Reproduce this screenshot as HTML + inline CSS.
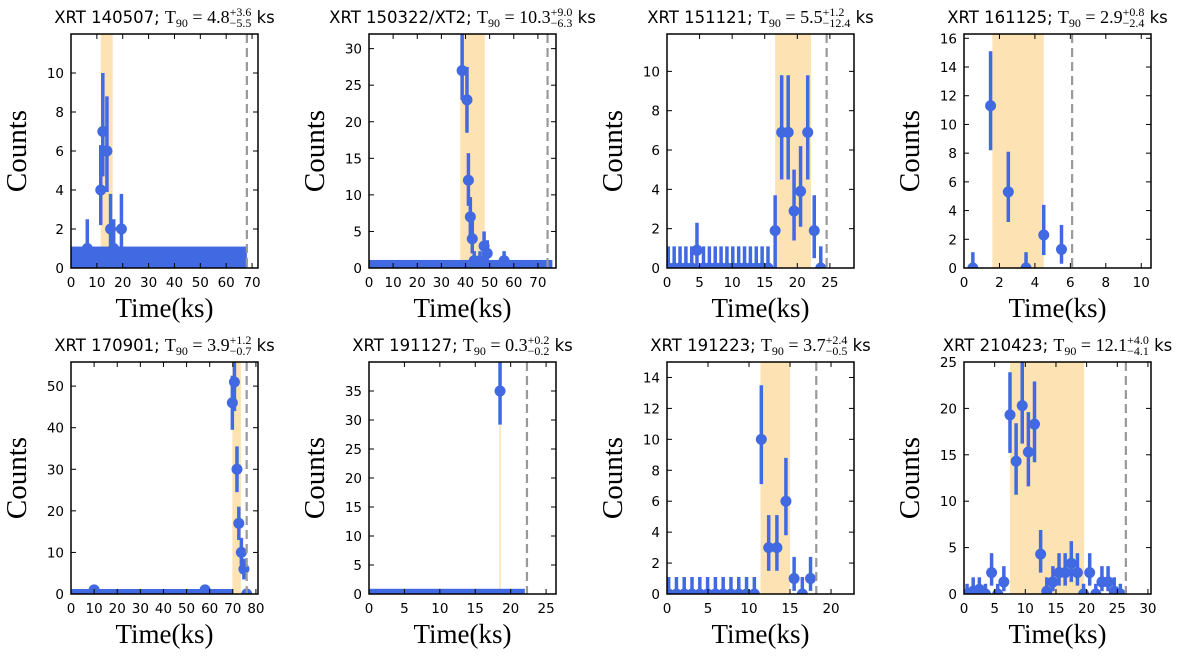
<!DOCTYPE html>
<html><head><meta charset="utf-8">
<style>
html,body{margin:0;padding:0;background:#fff;}
#wrap{position:relative;width:1200px;height:662px;overflow:hidden;}
svg{position:absolute;left:0;top:0;}
.title{position:absolute;width:400px;text-align:center;white-space:nowrap;font-family:"DejaVu Sans","Liberation Sans",sans-serif;font-size:16.5px;color:#000;line-height:20px;}
.m{font-family:"Liberation Serif",serif;font-size:18px;}
.sub{font-family:"Liberation Serif",serif;font-size:12px;position:relative;top:4px;}
.stk{display:inline-block;vertical-align:middle;font-family:"Liberation Serif",serif;font-size:12px;line-height:11px;text-align:left;position:relative;top:-1px;}
</style></head>
<body>
<div id="wrap">
<svg id="svg" width="1200" height="662"></svg>
</div>
<script>
// ---- Panel 1: XRT 140507 ----
const p1_x  = [6.3, 11.5, 12.3, 13.9, 15.3, 16.5, 19.5];
const p1_y  = [1, 4, 7, 6, 2, 1, 2];
const p1_lo = [0, 2.2, 4.7, 3.9, 0.6, 0, 0.6];
const p1_hi = [2.5, 6.3, 10, 8.8, 3.8, 2.5, 3.8];
const p1_bg = [0, 68, 1.1];
const p1_t90 = [11.5, 16.1];
const p1_dash = 68;

// ---- Panel 2: XRT 150322/XT2 ----
const p2_x  = [38.6, 40.6, 41.2, 42.0, 42.8, 43.6, 46.0, 47.7, 49.0, 56.0];
const p2_y  = [27, 23, 12, 7, 4, 1, 1, 3, 2, 1];
const p2_lo = [23, 18.5, 8.5, 4.5, 2, 0, 0, 1.2, 0.6, 0];
const p2_hi = [33, 27.5, 15.7, 9.7, 6.8, 2.3, 2.3, 5, 3.8, 2.3];
const p2_bg = [0, 76, 1.1];
const p2_t90 = [37.8, 48];
const p2_dash = 74;

// ---- Panel 3: XRT 151121 ----
const p3_x  = [0.2,1.1,2.0,2.9,3.8,5.6,6.5,7.4,8.3,9.2,10.1,11.0,11.9,12.8,13.7,14.6,15.5, 4.6, 16.6, 17.6, 18.6, 19.5, 20.5, 21.6, 22.6, 23.6];
const p3_y  = [0,0,0,0,0,0,0,0,0,0,0,0,0,0,0,0,0, 0.9, 1.9, 6.9, 6.9, 2.9, 3.9, 6.9, 1.9, 0];
const p3_lo = [0,0,0,0,0,0,0,0,0,0,0,0,0,0,0,0,0, 0, 0, 4.5, 4.5, 1.4, 2.1, 4.5, 0.5, 0];
const p3_hi = [1.1,1.1,1.1,1.1,1.1,1.1,1.1,1.1,1.1,1.1,1.1,1.1,1.1,1.1,1.1,1.1,1.1, 2.3, 3.7, 9.8, 9.8, 5, 6.2, 9.8, 3.7, 1.1];
const p3_bg = null;
const p3_t90 = [16.6, 22.1];
const p3_dash = 24.5;

// ---- Panel 4: XRT 161125 ----
const p4_x  = [0.5, 1.5, 2.5, 3.5, 4.5, 5.5];
const p4_y  = [0, 11.3, 5.3, 0, 2.3, 1.3];
const p4_lo = [0, 8.2, 3.2, 0, 0.9, 0.3];
const p4_hi = [1.1, 15.1, 8.1, 1.1, 4.4, 3.0];
const p4_bg = null;
const p4_t90 = [1.6, 4.5];
const p4_dash = 6.1;

// ---- Panel 5: XRT 170901 ----
const p5_x  = [10, 58, 69.8, 70.7, 71.8, 72.6, 73.7, 74.8, 76];
const p5_y  = [1, 1, 46, 51, 30, 17, 10, 6, 0];
const p5_lo = [0, 0, 39.5, 44, 24.5, 13, 7, 3.5, 0];
const p5_hi = [2, 2, 52.5, 58, 35.5, 21, 13.5, 8.5, 1.1];
const p5_bg = [0, 70, 1.2];
const p5_t90 = [69.8, 73.5];
const p5_dash = 76;

// ---- Panel 6: XRT 191127 ----
const p6_x  = [18.5];
const p6_y  = [35];
const p6_lo = [29.2];
const p6_hi = [41];
const p6_bg = [0, 22, 0.9];
const p6_t90 = [18.4, 18.6];
const p6_dash = 22.3;

// ---- Panel 7: XRT 191223 ----
const p7_x  = [0.2,1.15,2.1,3.05,4.0,4.95,5.9,6.85,7.8,8.75,9.7,10.65, 11.5, 12.4, 13.4, 14.5, 15.5, 16.5, 17.5];
const p7_y  = [0,0,0,0,0,0,0,0,0,0,0,0, 10, 3, 3, 6, 1, 0, 1];
const p7_lo = [0,0,0,0,0,0,0,0,0,0,0,0, 7.1, 1.5, 1.5, 3.8, 0.2, 0, 0.2];
const p7_hi = [1.1,1.1,1.1,1.1,1.1,1.1,1.1,1.1,1.1,1.1,1.1,1.1, 13.5, 5.1, 5.1, 8.8, 2.4, 1.1, 2.4];
const p7_bg = null;
const p7_t90 = [11.4, 15.0];
const p7_dash = 18.2;

// ---- Panel 8: XRT 210423 ----
const p8_x  = [0.5,1.5,2.5,3.5,4.5,5.5,6.5,7.5,8.5,9.5,10.5,11.5,12.5,13.5,14.5,15.5,16.5,17.5,18.5,19.5,20.5,21.5,22.5,23.5,24.5,25.5];
const p8_y  = [0,0.3,0.5,0,2.3,0,1.3,19.3,14.3,20.3,15.3,18.3,4.3,0.3,1.3,2.3,2.3,3.3,2.3,0,2.3,0,1.3,1.3,0.3,0];
const p8_lo = [0,0,0,0,0.9,0,0.3,15.2,10.7,16.2,11.6,14.2,2.3,0,0.3,0.9,0.9,1.3,0.9,0,0.9,0,0.3,0.3,0,0];
const p8_hi = [1.1,1.8,1.8,1.1,4.4,1.1,3,23.9,18.4,25,19.6,22.9,6.9,1.8,3,4.4,4.4,5.7,4.4,1.1,4.4,1.1,3,3,1.8,1.1];
const p8_bg = null;
const p8_t90 = [7.5, 19.6];
const p8_dash = 26.4;

// ---- Axis ranges and ticks ----
const xMaxes = [72.3, 77.5, 28.7, 10.55, 80.9, 26.4, 22.8, 30.5];
const yMaxes = [12, 32, 11.9, 16.3, 55.8, 40, 15, 25];
const xTicks = [[0,10,20,30,40,50,60,70],[0,10,20,30,40,50,60,70],[0,5,10,15,20,25],[0,2,4,6,8,10],[0,10,20,30,40,50,60,70,80],[0,5,10,15,20,25],[0,5,10,15,20],[0,5,10,15,20,25,30]];
const yTicks = [[0,2,4,6,8,10],[0,5,10,15,20,25,30],[0,2,4,6,8,10],[0,2,4,6,8,10,12,14,16],[0,10,20,30,40,50],[0,5,10,15,20,25,30,35],[0,2,4,6,8,10,12,14],[0,5,10,15,20,25]];
const names = ["XRT 140507","XRT 150322/XT2","XRT 151121","XRT 161125","XRT 170901","XRT 191127","XRT 191223","XRT 210423"];
const t90val = ["4.8","10.3","5.5","2.9","3.9","0.3","3.7","12.1"];
const t90up = ["+3.6","+9.0","+1.2","+0.8","+1.2","+0.2","+2.4","+4.0"];
const t90dn = ["\u22125.5","\u22126.3","\u221212.4","\u22122.4","\u22120.7","\u22120.2","\u22120.5","\u22124.1"];

const data = [
 [p1_x,p1_y,p1_lo,p1_hi,p1_bg,p1_t90,p1_dash],
 [p2_x,p2_y,p2_lo,p2_hi,p2_bg,p2_t90,p2_dash],
 [p3_x,p3_y,p3_lo,p3_hi,p3_bg,p3_t90,p3_dash],
 [p4_x,p4_y,p4_lo,p4_hi,p4_bg,p4_t90,p4_dash],
 [p5_x,p5_y,p5_lo,p5_hi,p5_bg,p5_t90,p5_dash],
 [p6_x,p6_y,p6_lo,p6_hi,p6_bg,p6_t90,p6_dash],
 [p7_x,p7_y,p7_lo,p7_hi,p7_bg,p7_t90,p7_dash],
 [p8_x,p8_y,p8_lo,p8_hi,p8_bg,p8_t90,p8_dash]
];

const NS = "http://www.w3.org/2000/svg";
const svg = document.getElementById('svg');
const wrap = document.getElementById('wrap');
const colLeft = [71, 369, 667, 964];
const W = 187;
const rowTop = [34, 362], rowBot = [268, 594];
const BLUE = "#4169e1", ORANGE = "#fde2b3";
const TICKFONT = 'DejaVu Sans, Liberation Sans, sans-serif';

function mk(tag, attrs, parent){
  const e = document.createElementNS(NS, tag);
  for (const k in attrs) e.setAttribute(k, attrs[k]);
  (parent||svg).appendChild(e);
  return e;
}

for (let i = 0; i < 8; i++){
  const col = i % 4, row = Math.floor(i / 4);
  const L = colLeft[col], R = L + W, T = rowTop[row], B = rowBot[row];
  const xs = v => L + v / xMaxes[i] * (R - L);
  const ys = v => B - v / yMaxes[i] * (B - T);
  const [dx, dy, dlo, dhi, bg, t90, dash] = data[i];

  const g = mk('g', {});
  
  

  const cp = mk('clipPath', {id: 'clip' + i}, g);
  mk('rect', {x: L, y: T, width: W, height: B - T}, cp);
  const pg = mk('g', {'clip-path': 'url(#clip' + i + ')'}, g);

  const band = mk('rect', {x: xs(t90[0]), y: T, width: Math.max(1.5, xs(t90[1]) - xs(t90[0])), height: B - T, fill: ORANGE}, pg);
  
  

  if (bg){
    const b = mk('rect', {x: xs(bg[0]), y: ys(bg[2]), width: xs(bg[1]) - xs(bg[0]), height: B - ys(bg[2]), fill: BLUE}, pg);
    
    
  }

  for (let k = 0; k < dx.length; k++){
    const eb = mk('line', {x1: xs(dx[k]), x2: xs(dx[k]), y1: ys(dlo[k]), y2: ys(dhi[k]), stroke: BLUE, 'stroke-width': 3.5}, pg);
    
    
    const c = mk('circle', {cx: xs(dx[k]), cy: ys(dy[k]), r: 5.5, fill: BLUE}, pg);
    
    
  }

  const dl = mk('line', {x1: xs(dash), x2: xs(dash), y1: T, y2: B, stroke: '#999', 'stroke-width': 2.2, 'stroke-dasharray': '9,5'}, pg);
  
  

  const fr = mk('rect', {x: L, y: T, width: W, height: B - T, fill: 'none', stroke: '#000', 'stroke-width': 1.5}, g);
  
  

  xTicks[i].forEach(t => {
    const x = xs(t);
    mk('line', {x1: x, x2: x, y1: B, y2: B - 5, stroke: '#000', 'stroke-width': 1}, g);
    mk('line', {x1: x, x2: x, y1: T, y2: T + 5, stroke: '#000', 'stroke-width': 1}, g);
    const tl = mk('text', {x: x, y: B + 19, 'text-anchor': 'middle', 'font-family': TICKFONT, 'font-size': 13.5}, g);
    tl.textContent = t;
    
    
  });
  yTicks[i].forEach(t => {
    const y = ys(t);
    mk('line', {x1: L, x2: L + 5, y1: y, y2: y, stroke: '#000', 'stroke-width': 1}, g);
    mk('line', {x1: R, x2: R - 5, y1: y, y2: y, stroke: '#000', 'stroke-width': 1}, g);
    const tl = mk('text', {x: L - 7, y: y + 5, 'text-anchor': 'end', 'font-family': TICKFONT, 'font-size': 13.5}, g);
    tl.textContent = t;
    
    
  });

  const xl = mk('text', {x: (L + R) / 2, y: B + 49, 'text-anchor': 'middle', 'font-family': 'Liberation Serif, serif', 'font-size': 27}, g);
  xl.textContent = 'Time(ks)';
  
  

  const ylx = L - 45, yly = (T + B) / 2;
  const yl = mk('text', {x: ylx, y: yly, 'text-anchor': 'middle', 'font-family': 'Liberation Serif, serif', 'font-size': 29, transform: 'rotate(-90 ' + ylx + ' ' + yly + ')'}, g);
  yl.textContent = 'Counts';
  
  

  const td = document.createElement('div');
  td.className = 'title';
  td.style.left = ((L + R) / 2 - 200) + 'px';
  td.style.top = (T - 27) + 'px';
  td.innerHTML = names[i] + '; <span class="m">T</span><span class="sub">90</span><span class="m"> = ' + t90val[i] + '</span><span class="stk">' + t90up[i] + '<br>' + t90dn[i] + '</span> ks';
  
  
  wrap.appendChild(td);
}
</script>
</body></html>
